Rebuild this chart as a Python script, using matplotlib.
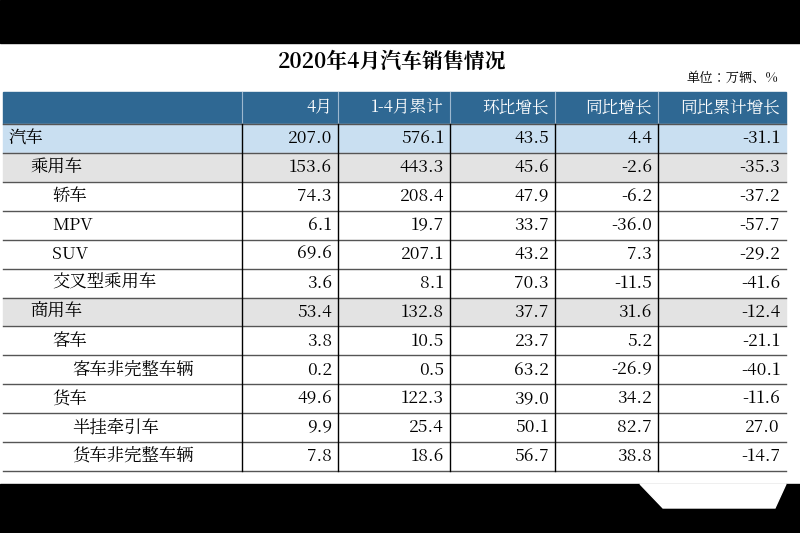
import matplotlib
matplotlib.use("Agg")
import matplotlib.pyplot as plt
from matplotlib.patches import Rectangle, Polygon
from matplotlib import font_manager as fm

cands = [f.name for f in fm.fontManager.ttflist if "CJK" in f.name]
cjk = "Noto Sans CJK SC" if "Noto Sans CJK SC" in cands else (cands[0] if cands else "DejaVu Sans")
plt.rcParams["font.family"] = "sans-serif"
plt.rcParams["font.sans-serif"] = [cjk, "Noto Sans CJK JP", "DejaVu Sans"]

title = "2020年4月汽车销售情况"
unit = "单位：万辆、%"
headers = ["4月", "1-4月累计", "环比增长", "同比增长", "同比累计增长"]
categories = ["汽车", "乘用车", "轿车", "MPV", "SUV", "交叉型乘用车",
              "商用车", "客车", "客车非完整车辆", "货车", "半挂牵引车", "货车非完整车辆"]
levels = [0, 1, 2, 2, 2, 2, 1, 2, 3, 2, 3, 3]
april = [207.0, 153.6, 74.3, 6.1, 69.6, 3.6, 53.4, 3.8, 0.2, 49.6, 9.9, 7.8]
cum = [576.1, 443.3, 208.4, 19.7, 207.1, 8.1, 132.8, 10.5, 0.5, 122.3, 25.4, 18.6]
mom = [43.5, 45.6, 47.9, 33.7, 43.2, 70.3, 37.7, 23.7, 63.2, 39.0, 50.1, 56.7]
yoy = [4.4, -2.6, -6.2, -36.0, 7.3, -11.5, 31.6, 5.2, -26.9, 34.2, 82.7, 38.8]
yoy_cum = [-31.1, -35.3, -37.2, -57.7, -29.2, -41.6, -12.4, -21.1, -40.1, -11.6, 27.0, -14.7]

fig = plt.figure(figsize=(8, 5.33), dpi=100)
ax = fig.add_axes([0, 0, 1, 1])
ax.set_xlim(0, 800)
ax.set_ylim(533, 0)
ax.axis("off")

ax.add_patch(Rectangle((0, 0), 800, 43, color="black"))
ax.add_patch(Rectangle((0, 484), 800, 49, color="black"))
ax.add_patch(Polygon([(640, 484), (663, 508), (775, 508), (786, 484)], closed=True, color="white"))

ax.text(392, 62, title, ha="center", va="center", fontsize=15, fontweight="bold")
ax.text(778, 78, unit, ha="right", va="center", fontsize=9.5)

cols = [3, 242, 338, 450, 555, 658, 786]
top, hh = 92, 32
rh = (471 - 124) / 12

ax.add_patch(Rectangle((cols[0], top), cols[-1] - cols[0], hh, color="#2F6893"))
for i, h in enumerate(headers):
    ax.text(cols[i + 2] - 6, top + hh / 2, h, ha="right", va="center", color="white", fontsize=12)
for x in cols[1:-1]:
    ax.plot([x, x], [top, top + hh], color="#9DB8CF", lw=0.8)

data_cols = [april, cum, mom, yoy, yoy_cum]
y0 = top + hh
for r, name in enumerate(categories):
    y = y0 + r * rh
    if r == 0:
        fc = "#C9DFF1"
    elif name in ("乘用车", "商用车"):
        fc = "#E3E3E3"
    else:
        fc = "white"
    ax.add_patch(Rectangle((cols[0], y), cols[-1] - cols[0], rh, color=fc))
    indent = [8, 30, 52, 72][levels[r]]
    ax.text(indent, y + rh / 2, name, ha="left", va="center", fontsize=12.5)
    for c, vals in enumerate(data_cols):
        ax.text(cols[c + 2] - 6, y + rh / 2, f"{vals[r]:.1f}", ha="right", va="center", fontsize=12.5)
    ax.plot([cols[0], cols[-1]], [y + rh, y + rh], color="#555555", lw=1)
ax.plot([cols[0], cols[-1]], [y0, y0], color="#555555", lw=1)
for x in cols[1:-1]:
    ax.plot([x, x], [y0, y0 + 12 * rh], color="black", lw=1)

fig.savefig("out.png", dpi=100)
